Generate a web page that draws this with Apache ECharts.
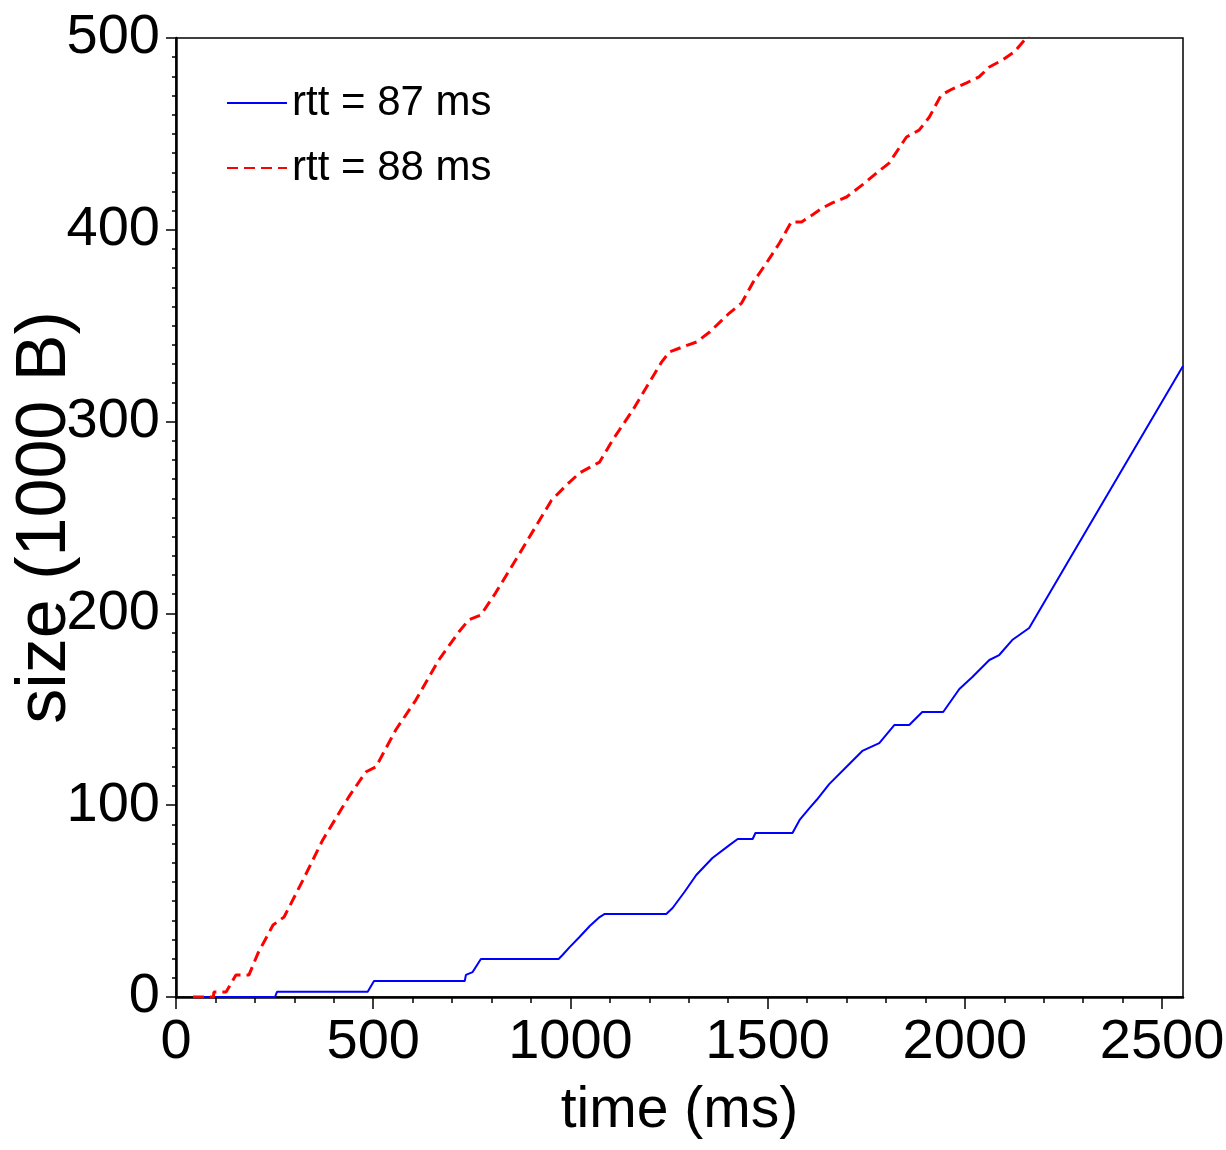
<!DOCTYPE html>
<html>
<head>
<meta charset="utf-8">
<script src="https://cdn.jsdelivr.net/npm/echarts@6/dist/echarts.min.js"></script>
<style>
  html, body { margin: 0; padding: 0; background: #fff; }
  #chart { width: 1226px; height: 1150px; }
</style>
</head>
<body>
<div id="chart"></div>
<script>
// rtt = 87 ms (blue, solid)
var blueTime = [50, 251, 256, 486, 502, 732, 735, 752, 773, 970, 980, 998, 1023, 1049, 1074, 1087,
    1243, 1259, 1290, 1319, 1360, 1403, 1424, 1462, 1469, 1563, 1581, 1606, 1624, 1656, 1707, 1740,
    1783, 1821, 1859, 1892, 1945, 1986, 2019, 2062, 2087, 2120, 2163, 2264, 2553];
var blueSize = [0, 0, 2.7, 2.7, 8.3, 8.3, 11.5, 13, 19.8, 19.8, 21.9, 26, 31.3, 37, 41.7, 43.3,
    43.3, 46.4, 55, 63.6, 72.5, 79.2, 82.4, 82.4, 85.5, 85.5, 92.3, 98.5, 102.7, 111, 121.5, 128.3,
    132.4, 141.8, 141.8, 148.6, 148.6, 160.6, 166.8, 175.7, 178.3, 186.1, 192.4, 227.8, 329];

// rtt = 88 ms (red, dashed)
var redTime = [43, 95, 96, 127, 152, 185, 208, 246, 274, 322, 372, 438, 481, 507, 557, 608, 666, 717,
    742, 773, 810, 861, 952, 990, 1023, 1074, 1107, 1158, 1193, 1231, 1251, 1284, 1320, 1353, 1403,
    1434, 1462, 1497, 1530, 1560, 1586, 1613, 1639, 1664, 1700, 1740, 1776, 1808, 1852, 1884, 1910,
    1940, 1968, 2003, 2036, 2062, 2095, 2125, 2158, 2190];
var redSize = [0, 0, 2.6, 2.6, 11.5, 11.5, 22.9, 37.5, 41.7, 61, 81.9, 104.3, 117.3, 120, 139.2, 154.8,
    175.7, 190.3, 196.6, 199.2, 210.6, 227.8, 259, 266.9, 273.2, 278.9, 290.4, 306, 318, 331, 336.3,
    338.9, 341.5, 346.7, 356.6, 361.8, 372.3, 382.7, 393.1, 404.1, 404.1, 407.7, 411.4, 414, 417.1,
    423.4, 429.6, 434.8, 448.4, 452, 458.8, 470.3, 473.4, 476.5, 479.7, 484.9, 488.5, 492.7, 500.5, 510];

var seriesNames = ['rtt = 87 ms', 'rtt = 88 ms'];
var xTicks = [0, 500, 1000, 1500, 2000, 2500];
var xMinorTicks = [];
for (var t = 0; t <= 2500; t += 100) {
    xMinorTicks.push(t);
}
var xMax = 2553;

function pairs(xs, ys) {
    var out = [];
    for (var i = 0; i < xs.length; i++) {
        out.push([xs[i], ys[i]]);
    }
    return out;
}

var sans = '"Liberation Sans", Arial, Helvetica, sans-serif';

var chart = echarts.init(document.getElementById('chart'));

chart.setOption({
    animation: false,
    backgroundColor: '#fff',
    grid: {
        left: 176,
        right: 43,
        top: 38,
        bottom: 153,
        outerBoundsMode: 'none',
        containLabel: false,
        show: true,
        borderColor: '#000',
        borderWidth: 1.5
    },
    legend: {
        orient: 'vertical',
        left: 226,
        top: 78,
        padding: 0,
        itemWidth: 60,
        itemHeight: 2,
        itemGap: 15,
        data: seriesNames,
        itemStyle: { opacity: 0 },
        textStyle: {
            fontFamily: sans,
            fontSize: 42,
            lineHeight: 50,
            color: '#000'
        }
    },
    xAxis: [{
        type: 'value',
        min: 0,
        max: xMax,
        name: 'time (ms)',
        nameLocation: 'middle',
        nameGap: 86,
        nameMoveOverlap: false,
        nameTextStyle: { fontFamily: sans, fontSize: 57, color: '#000' },
        splitLine: { show: false },
        axisLine: { onZero: false, lineStyle: { color: '#000', width: 2.5 } },
        axisTick: { customValues: xTicks, length: 12, lineStyle: { color: '#000', width: 1.5 } },
        axisLabel: {
            customValues: xTicks,
            margin: 18,
            fontFamily: sans,
            fontSize: 56,
            color: '#000',
            formatter: function (v) { return String(v); }
        }
    }, {
        type: 'value',
        min: 0,
        max: xMax,
        position: 'bottom',
        splitLine: { show: false },
        axisLine: { show: false },
        axisLabel: { show: false },
        axisTick: { customValues: xMinorTicks, length: 6, lineStyle: { color: '#000', width: 1.5 } }
    }],
    yAxis: {
        type: 'value',
        min: 0,
        max: 500,
        interval: 100,
        name: 'size (1000 B)',
        nameLocation: 'middle',
        nameGap: 95,
        nameMoveOverlap: false,
        nameTextStyle: { fontFamily: sans, fontSize: 70, color: '#000' },
        splitLine: { show: false },
        axisLine: { onZero: false, lineStyle: { color: '#000', width: 2.5 } },
        axisTick: { length: 10, lineStyle: { color: '#000', width: 1.5 } },
        minorTick: { show: true, splitNumber: 10, length: 4, lineStyle: { color: '#000', width: 1.5 } },
        axisLabel: {
            margin: 16,
            fontFamily: sans,
            fontSize: 56,
            color: '#000',
            formatter: function (v) { return String(v); }
        }
    },
    series: [{
        name: seriesNames[0],
        type: 'line',
        symbol: 'none',
        clip: true,
        data: pairs(blueTime, blueSize),
        lineStyle: { color: '#0000ff', width: 2 },
        itemStyle: { color: '#0000ff' }
    }, {
        name: seriesNames[1],
        type: 'line',
        symbol: 'none',
        clip: true,
        data: pairs(redTime, redSize),
        lineStyle: { color: '#ff0000', width: 3, type: [11, 6] },
        itemStyle: { color: '#ff0000' }
    }]
});
</script>
</body>
</html>
